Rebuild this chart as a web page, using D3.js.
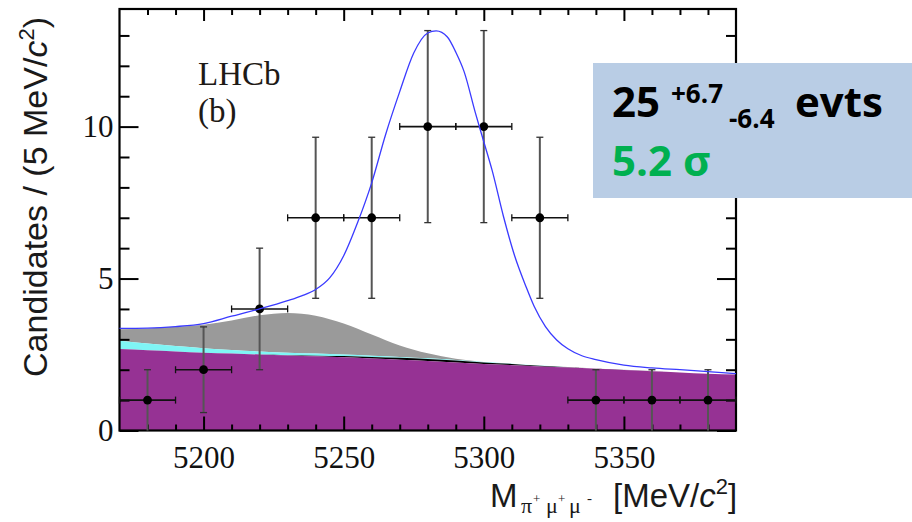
<!DOCTYPE html>
<html>
<head>
<meta charset="utf-8">
<script src="https://cdn.jsdelivr.net/npm/d3@7"></script>
<style>
  html, body { margin: 0; padding: 0; background: #fff; }
  svg { display: block; }
</style>
</head>
<body>
<div id="chart"></div>
<script>
// data points (20 MeV bins)
const binCentres = [5180, 5200, 5220, 5240, 5260, 5280, 5300, 5320, 5340, 5360, 5380];
const binCounts  = [1, 2, 4, 7, 7, 10, 10, 7, 1, 1, 1];
const countErrs  = [1.0, 1.41, 2.0, 2.65, 2.65, 3.16, 3.16, 2.65, 1.0, 1.0, 1.0];
const binHalf    = [10, 10, 10, 10, 10, 10, 10, 10, 10, 10, 10];

// total fit (blue)
const fitMass  = [5170, 5180, 5190, 5200, 5210, 5220, 5230, 5235, 5240, 5245, 5250, 5255, 5260, 5265, 5270, 5275, 5280, 5283, 5287, 5290, 5293, 5297, 5300, 5303, 5307, 5311, 5315, 5318, 5322, 5326, 5330, 5335, 5340, 5350, 5360, 5370, 5380, 5390];
const fitTotal = [3.36, 3.37, 3.42, 3.52, 3.76, 4.00, 4.27, 4.43, 4.64, 5.02, 5.75, 6.85, 8.15, 9.75, 11.15, 12.42, 13.08, 13.15, 12.95, 12.45, 11.8, 10.45, 9.5, 8.55, 7.05, 5.75, 4.75, 4.08, 3.42, 2.98, 2.69, 2.46, 2.33, 2.15, 2.06, 2.00, 1.94, 1.87];

// background components
const bkgMass    = [5170, 5180, 5190, 5200, 5210, 5220, 5230, 5240, 5250, 5260, 5270, 5280, 5290, 5300, 5310, 5320, 5330, 5340, 5350, 5360, 5370, 5380, 5390];
const combBkg    = [2.68, 2.64, 2.60, 2.56, 2.53, 2.50, 2.47, 2.44, 2.41, 2.37, 2.33, 2.29, 2.24, 2.19, 2.15, 2.11, 2.07, 2.03, 1.99, 1.95, 1.91, 1.87, 1.84];
const blackBkg   = [0, 0, 0, 0, 0, 0, 0.01, 0.02, 0.04, 0.05, 0.06, 0.06, 0.06, 0.05, 0.04, 0.02, 0.01, 0, 0, 0, 0, 0, 0];
const cyanBkg    = [0.27, 0.22, 0.18, 0.15, 0.12, 0.10, 0.08, 0.07, 0.05, 0.04, 0.03, 0.025, 0.02, 0.015, 0.01, 0.01, 0.005, 0, 0, 0, 0, 0, 0];
const grayTop    = [3.33, 3.36, 3.41, 3.48, 3.62, 3.79, 3.87, 3.78, 3.52, 3.16, 2.80, 2.54, 2.36, 2.25, 2.20, 2.14, 2.09, 2.04, 2.00, 1.96, 1.91, 1.87, 1.84];

// ticks
const xMajor = [5200, 5250, 5300, 5350];
const xMinor = [5180, 5190, 5210, 5220, 5230, 5240, 5260, 5270, 5280, 5290, 5310, 5320, 5330, 5340, 5360, 5370, 5380];
const yMajor = [0, 5, 10];
const yMinor = [1, 2, 3, 4, 6, 7, 8, 9, 11, 12, 13];

const W = 912, H = 522;
const x = d3.scaleLinear().domain([5170, 5390]).range([119.5, 736]);
const y = d3.scaleLinear().domain([0, 13.87]).range([430.5, 9]);

const svg = d3.select('#chart').append('svg').attr('width', W).attr('height', H);

const SERIF = '"Liberation Serif", "Times New Roman", serif';
const SANS = '"Liberation Sans", Arial, sans-serif';

// stacked background areas
const rows = bkgMass.map((m, i) => {
    const b0 = combBkg[i];
    const b1 = b0 + blackBkg[i];
    const b2 = b1 + cyanBkg[i];
    return { m, b0, b1, b2, top: Math.max(grayTop[i], b2) };
});
const area = (lo, hi) => d3.area()
    .x(d => x(d.m))
    .y0(d => y(lo(d)))
    .y1(d => y(hi(d)))
    .curve(d3.curveMonotoneX);

svg.append('path').datum(rows).attr('d', area(d => d.b2, d => d.top)).attr('fill', '#9a9a9a');
svg.append('path').datum(rows).attr('d', area(d => d.b1, d => d.b2)).attr('fill', '#7ff5f5');
svg.append('path').datum(rows).attr('d', area(d => d.b0, d => d.b1)).attr('fill', '#000');
svg.append('path').datum(rows).attr('d', area(() => 0, d => d.b0)).attr('fill', '#963294');

// axes
function styleAxis(g) {
    g.select('.domain').remove();
    g.selectAll('.tick line').attr('stroke', '#000').attr('stroke-width', 2);
}
svg.append('g').attr('transform', `translate(0,${y(0)})`)
    .call(d3.axisBottom(x).tickValues(xMinor).tickSize(-6).tickFormat('')).call(styleAxis);
svg.append('g').attr('transform', `translate(0,${y(0)})`)
    .call(d3.axisBottom(x).tickValues(xMajor).tickSize(-14).tickPadding(15).tickFormat(d3.format('d')))
    .call(styleAxis)
    .call(g => g.selectAll('.tick text').style('font-family', SERIF).style('font-size', '31px').attr('fill', '#111'));
svg.append('g').attr('transform', `translate(0,${y.range()[1]})`)
    .call(d3.axisTop(x).tickValues(xMinor).tickSize(-6).tickFormat('')).call(styleAxis);
svg.append('g').attr('transform', `translate(0,${y.range()[1]})`)
    .call(d3.axisTop(x).tickValues(xMajor).tickSize(-12).tickFormat('')).call(styleAxis);

svg.append('g').attr('transform', `translate(${x.range()[0]},0)`)
    .call(d3.axisLeft(y).tickValues(yMinor).tickSize(-10).tickFormat('')).call(styleAxis);
svg.append('g').attr('transform', `translate(${x.range()[0]},0)`)
    .call(d3.axisLeft(y).tickValues(yMajor).tickSize(-19).tickPadding(6).tickFormat(d3.format('d')))
    .call(styleAxis)
    .call(g => g.selectAll('.tick text').style('font-family', SERIF).style('font-size', '31px').attr('fill', '#111'));
svg.append('g').attr('transform', `translate(${x.range()[1]},0)`)
    .call(d3.axisRight(y).tickValues(yMinor).tickSize(-10).tickFormat('')).call(styleAxis);
svg.append('g').attr('transform', `translate(${x.range()[1]},0)`)
    .call(d3.axisRight(y).tickValues(yMajor).tickSize(-19).tickFormat('')).call(styleAxis);

// frame
svg.append('rect')
    .attr('x', x.range()[0]).attr('y', y.range()[1])
    .attr('width', x.range()[1] - x.range()[0])
    .attr('height', y.range()[0] - y.range()[1])
    .attr('fill', 'none').attr('stroke', '#000').attr('stroke-width', 2.2);

// data with error bars
const pts = binCentres.map((m, i) => ({ m, n: binCounts[i], e: countErrs[i], h: binHalf[i] }));
const dataG = svg.append('g');
dataG.selectAll('.vbar').data(pts).join('line')
    .attr('x1', d => x(d.m)).attr('x2', d => x(d.m))
    .attr('y1', d => y(d.n + d.e)).attr('y2', d => y(Math.max(0, d.n - d.e)))
    .attr('stroke', '#555').attr('stroke-width', 2);
dataG.selectAll('.vcapT').data(pts).join('line')
    .attr('x1', d => x(d.m) - 3.5).attr('x2', d => x(d.m) + 3.5)
    .attr('y1', d => y(d.n + d.e)).attr('y2', d => y(d.n + d.e))
    .attr('stroke', '#333').attr('stroke-width', 1.3);
dataG.selectAll('.vcapB').data(pts.filter(d => d.n - d.e > 0)).join('line')
    .attr('x1', d => x(d.m) - 3.5).attr('x2', d => x(d.m) + 3.5)
    .attr('y1', d => y(d.n - d.e)).attr('y2', d => y(d.n - d.e))
    .attr('stroke', '#333').attr('stroke-width', 1.3);
dataG.selectAll('.hbar').data(pts).join('line')
    .attr('x1', d => x(d.m - d.h)).attr('x2', d => x(d.m + d.h))
    .attr('y1', d => y(d.n)).attr('y2', d => y(d.n))
    .attr('stroke', '#111').attr('stroke-width', 1.6);
dataG.selectAll('.hcapL').data(pts).join('line')
    .attr('x1', d => x(d.m - d.h)).attr('x2', d => x(d.m - d.h))
    .attr('y1', d => y(d.n) - 3.5).attr('y2', d => y(d.n) + 3.5)
    .attr('stroke', '#111').attr('stroke-width', 1.3);
dataG.selectAll('.hcapR').data(pts).join('line')
    .attr('x1', d => x(d.m + d.h)).attr('x2', d => x(d.m + d.h))
    .attr('y1', d => y(d.n) - 3.5).attr('y2', d => y(d.n) + 3.5)
    .attr('stroke', '#111').attr('stroke-width', 1.3);
dataG.selectAll('circle').data(pts).join('circle')
    .attr('cx', d => x(d.m)).attr('cy', d => y(d.n)).attr('r', 4.4).attr('fill', '#000');

// total fit
svg.append('path')
    .datum(fitMass.map((m, i) => [m, fitTotal[i]]))
    .attr('d', d3.line().x(d => x(d[0])).y(d => y(d[1])).curve(d3.curveMonotoneX))
    .attr('fill', 'none').attr('stroke', '#3a3aff').attr('stroke-width', 1.3);

// labels in the plot
svg.append('text').attr('x', 198).attr('y', 85).text('LHCb')
    .style('font-family', SERIF).style('font-size', '33px').attr('fill', '#1e1a16');
svg.append('text').attr('x', 198).attr('y', 122).text('(b)')
    .style('font-family', SERIF).style('font-size', '33px').attr('fill', '#1e1a16');

// y title
const yt = svg.append('text').attr('transform', 'translate(47,197) rotate(-90)')
    .attr('text-anchor', 'middle')
    .style('font-family', SANS).style('font-size', '34px').attr('fill', '#1a1a1a');
yt.append('tspan').text('Candidates / (5 MeV/');
yt.append('tspan').text('c').style('font-style', 'italic');
yt.append('tspan').text('2').style('font-size', '22px').attr('dy', -13);
yt.append('tspan').text(')').attr('dy', 13);

// x title
svg.append('text').attr('x', 490).attr('y', 507).text('M')
    .style('font-family', SANS).style('font-size', '33px').attr('fill', '#1a1a1a');
const subParts = [
    { t: '\u03c0', x: 521, y: 513, s: 22 },
    { t: '+', x: 533, y: 503, s: 13 },
    { t: '\u03bc', x: 546, y: 513, s: 22 },
    { t: '+', x: 558, y: 503, s: 13 },
    { t: '\u03bc', x: 569, y: 513, s: 22 },
    { t: '-', x: 587, y: 503, s: 15 }
];
svg.append('g').selectAll('text').data(subParts).join('text')
    .attr('x', d => d.x).attr('y', d => d.y).text(d => d.t)
    .style('font-family', SERIF).style('font-size', d => d.s + 'px').attr('fill', '#1a1a1a');
const xt = svg.append('text').attr('x', 613).attr('y', 507)
    .style('font-family', SANS).style('font-size', '33px').attr('fill', '#1a1a1a');
xt.append('tspan').text('[MeV/');
xt.append('tspan').text('c').style('font-style', 'italic');
xt.append('tspan').text('2').style('font-size', '22px').attr('dy', -13);
xt.append('tspan').text(']').attr('dy', 13);

// result box
svg.append('rect').attr('x', 593).attr('y', 63).attr('width', 319).attr('height', 135).attr('fill', '#b9cde5');
const BOX = '"Open Sans", "Noto Sans", sans-serif';
const boxTexts = [
    { t: '25', x: 612, y: 117, s: 42, c: '#000' },
    { t: '+6.7', x: 671, y: 103, s: 26, c: '#000' },
    { t: '-6.4', x: 729, y: 128, s: 26, c: '#000' },
    { t: 'evts', x: 795, y: 117, s: 42, c: '#000' },
    { t: '5.2 \u03c3', x: 612, y: 176, s: 42, c: '#00b050' }
];
svg.append('g').selectAll('text').data(boxTexts).join('text')
    .attr('x', d => d.x).attr('y', d => d.y).text(d => d.t)
    .style('font-family', BOX).style('font-weight', 'bold')
    .style('font-size', d => d.s + 'px').attr('fill', d => d.c);
</script>
</body>
</html>
